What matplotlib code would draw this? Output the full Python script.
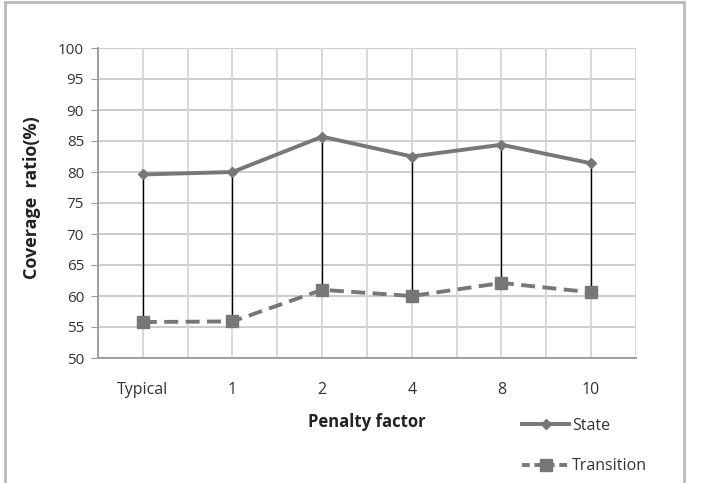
import matplotlib
matplotlib.use("Agg")
import matplotlib.pyplot as plt
from matplotlib.lines import Line2D

categories = ["Typical", "1", "2", "4", "8", "10"]
state = [79.6, 80.0, 85.7, 82.5, 84.4, 81.4]
transition = [55.8, 55.9, 61.0, 60.0, 62.1, 60.6]
yticks = list(range(50, 101, 5))

plt.rcParams['font.family'] = ['Open Sans', 'DejaVu Sans']

W, H = 705, 483
fig = plt.figure(figsize=(W / 100, H / 100), dpi=100)
ax = fig.add_axes([98 / W, 1 - 358 / H, (636 - 98) / W, (358 - 48) / H])

x = list(range(len(categories)))
grid_c = "#c8c8c8"
# grid
for yv in yticks:
    ax.axhline(yv, color=grid_c, lw=1.3, zorder=0)
for k in range(2 * len(categories) + 1):
    ax.axvline(-0.5 + 0.5 * k, color="#d6d6d6", lw=1.3, zorder=0)

# high-low lines
ax.vlines(x, transition, state, color="black", lw=1.0, zorder=2)

line_c = "#777777"
dash = (0, (3.6, 1.9))
ax.plot(x, state, color=line_c, lw=2.8, marker="D", ms=5, zorder=3)
ax.plot(x, transition, color=line_c, lw=2.8, ls=dash, marker="s", ms=8, zorder=3)

ax.set_xlim(-0.5, len(categories) - 0.5)
ax.set_ylim(50, 100)
ax.set_yticks(yticks)
ax.set_xticks(x)
ax.set_xticklabels(categories)
for s in ["top", "right"]:
    ax.spines[s].set_visible(False)
ax.spines["left"].set_color("#999999")
ax.spines["bottom"].set_color("#999999")
ax.spines["left"].set_linewidth(1.3)
ax.spines["bottom"].set_linewidth(1.3)
ax.tick_params(axis="y", length=5, color="#999999", labelsize=11, labelcolor="#333333", pad=5)
ax.tick_params(axis="x", length=0, labelsize=11.5, labelcolor="#333333", pad=17)

fig.text(32 / W, 1 - 198 / H, "Coverage  ratio(%)", rotation=90, ha="center", va="center",
         fontsize=13, fontweight="bold", color="#222222")
fig.text(367 / W, 1 - 422 / H, "Penalty factor", ha="center", va="center",
         fontsize=12, fontweight="bold", color="#222222")

# legend
handles = [Line2D([0], [0], color=line_c, lw=2.8, marker="D", ms=5),
           Line2D([0], [0], color=line_c, lw=2.8, ls=(0, (2.0, 1.2)), marker="s", ms=8)]
fig.legend(handles, ["State", "Transition"], loc="center left",
           bbox_to_anchor=(508 / W, 1 - 446 / H), frameon=False, fontsize=11.5,
           handlelength=2.9, labelspacing=1.55, handletextpad=0.2,
           labelcolor="#333333")

# figure border
bc = "#bbbbbb"
fig.add_artist(Line2D([4.5 / W, 4.5 / W], [0, 1 - 1.5 / H], color=bc, lw=2, transform=fig.transFigure))
fig.add_artist(Line2D([4.5 / W, 684 / W], [1 - 1.5 / H, 1 - 1.5 / H], color=bc, lw=2, transform=fig.transFigure))
fig.add_artist(Line2D([684 / W, 684 / W], [0, 1 - 1.5 / H], color=bc, lw=2, transform=fig.transFigure))

fig.savefig("out.png", dpi=100)
